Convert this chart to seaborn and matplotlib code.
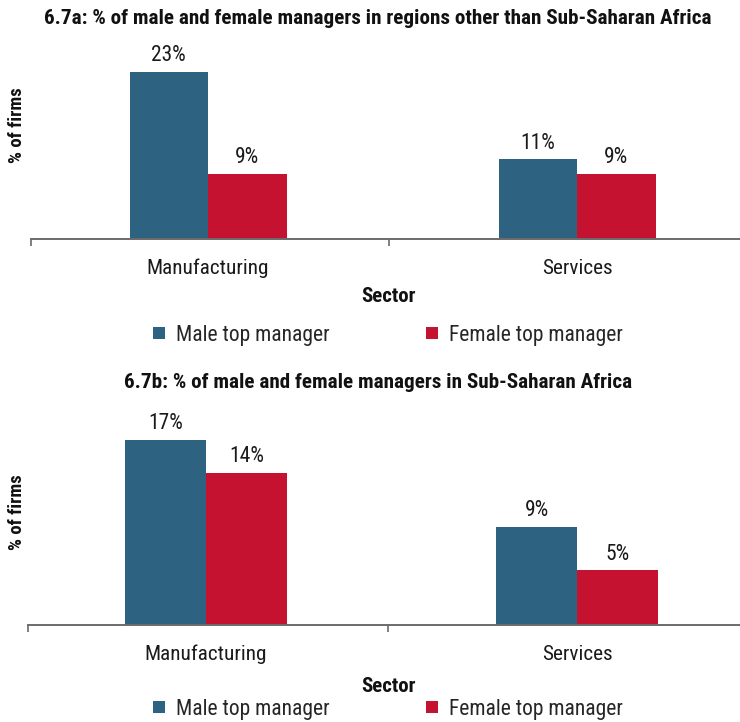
import matplotlib
matplotlib.use("Agg")
import matplotlib.pyplot as plt
from matplotlib import font_manager
from matplotlib.lines import Line2D
import seaborn as sns
import pandas as pd

# ---- data ----
sectors = ["Manufacturing", "Services"]
managers = ["Male top manager", "Female top manager"]
other_regions_male = [23, 11]
other_regions_female = [9, 9]
ssa_male = [17, 9]
ssa_female = [14, 5]

title_a = "6.7a: % of male and female managers in regions other than Sub-Saharan Africa"
title_b = "6.7b: % of male and female managers in Sub-Saharan Africa"
x_title = "Sector"
y_title = "% of firms"

colors = {"Male top manager": "#2D6280", "Female top manager": "#C41230"}

sns.set_theme(style="white")

# prefer a narrow sans face when the system has one
available = {f.name for f in font_manager.fontManager.ttflist}
family = "DejaVu Sans"
for cand in ["Roboto Condensed", "Liberation Sans Narrow", "Open Sans Condensed",
             "Noto Sans", "Roboto", "Liberation Sans"]:
    if cand in available:
        family = cand
        break
plt.rcParams["font.family"] = [family, "DejaVu Sans"]

W, H = 740, 722
fig = plt.figure(figsize=(W / 100, H / 100), dpi=100)


def frame(male, female):
    return pd.DataFrame({
        "Sector": sectors * 2,
        "Manager": [managers[0]] * len(sectors) + [managers[1]] * len(sectors),
        "Value": list(male) + list(female),
    })


def panel(left_px, top_px, base_px, px_per_unit, px_per_pct, male, female,
          bar_width, title, title_y, ylab_y, tick_y, sector_y, legend_y):
    ax = fig.add_axes([left_px / W, 1 - base_px / H, (W - left_px) / W,
                       (base_px - top_px) / H])
    sns.barplot(data=frame(male, female), x="Sector", y="Value", hue="Manager",
                hue_order=managers, palette=colors, width=bar_width, gap=0,
                saturation=1, legend=False, ax=ax, linewidth=0)
    ax.set_xlim(-0.48, -0.48 + (W - left_px) / px_per_unit)
    ax.set_ylim(0, (base_px - top_px) / px_per_pct)
    for cont in ax.containers:
        ax.bar_label(cont, labels=[f"{v:g}%" for v in cont.datavalues],
                     padding=4, fontsize=15.5, color="#1a1a1a")
    for s in ["left", "right", "top"]:
        ax.spines[s].set_visible(False)
    ax.spines["bottom"].set_color("#6b6b6b")
    ax.spines["bottom"].set_linewidth(1.4)
    ax.set_yticks([])
    ax.set_xticks([0, 1])
    ax.set_xticklabels([])
    ax.tick_params(axis="x", which="major", length=0, bottom=True)
    ax.set_xticks([-0.48, 0.49], minor=True)
    ax.tick_params(axis="x", which="minor", length=5, width=1.2, bottom=True,
                   color="#6b6b6b", direction="out")
    ax.set_xlabel("")
    ax.set_ylabel("")
    # category labels, axis titles, panel title
    for i, name in enumerate(sectors):
        ax.annotate(name, xy=(i, 0), xycoords=("data", "axes fraction"),
                    xytext=(0, -(tick_y - base_px) * 0.72), textcoords="offset points",
                    ha="center", va="center", fontsize=15.3, color="#1a1a1a")
    fig.text(388 / W, 1 - sector_y / H, x_title, ha="center", va="center",
             fontsize=15, fontweight="bold", color="#111111")
    fig.text(17 / W, 1 - ylab_y / H, y_title, rotation=90, ha="center",
             va="center", fontsize=13.5, fontweight="bold", color="#111111")
    fig.text(378 / W, 1 - title_y / H, title, ha="center", va="center",
             fontsize=15.2, fontweight="bold", color="#111111")
    handles = [Line2D([], [], marker="s", linestyle="", markersize=8,
                      markerfacecolor=colors[m], markeredgewidth=0) for m in managers]
    fig.legend(handles, managers, loc="center", ncol=2, frameon=False,
               bbox_to_anchor=(387 / W, 1 - legend_y / H), fontsize=15.5,
               handlelength=0.7, handletextpad=0.45, columnspacing=4.4)
    return ax


panel(31, 11, 239, 369, 167 / 23, other_regions_male, other_regions_female,
      0.426, title_a, 18, 125, 268, 297, 335)
panel(28, 389, 624.5, 371, 184.5 / 17, ssa_male, ssa_female,
      0.437, title_b, 382, 512, 654, 687, 709)

fig.savefig("out.png", dpi=100)
